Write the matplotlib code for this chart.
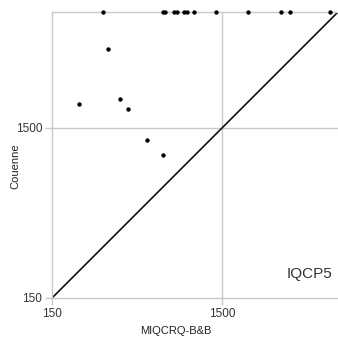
import matplotlib
matplotlib.use("Agg")
import matplotlib.pyplot as plt
from matplotlib.ticker import FixedLocator, FixedFormatter, NullLocator

plt.rcParams['font.family'] = ['Liberation Sans', 'DejaVu Sans']

# data (seconds); timeouts capped at 7200
miqcrq_timeout = [298, 676, 694, 781, 810, 897, 934, 1023, 1377, 2124, 3305, 3747, 6437]
couenne_timeout = [7200] * len(miqcrq_timeout)
miqcrq_solved = [321, 216, 376, 421, 542, 670]
couenne_solved = [4347, 2058, 2220, 1924, 1270, 1037]
tick_values = [150, 1500]
tick_labels = ["150", "1500"]
lo, hi = 150, 7200

fig = plt.figure(figsize=(3.38, 3.38), dpi=100)
ax = fig.add_axes([52/338, 40/338, 286.3/338, 286.3/338])
ax.set_xscale('log')
ax.set_yscale('log')
ax.set_xlim(lo, hi)
ax.set_ylim(lo, hi)

gc = '#c8c8c8'
for v in tick_values[1:]:
    ax.axvline(v, color=gc, lw=1, zorder=1)
    ax.axhline(v, color=gc, lw=1, zorder=1)

ax.plot([lo, hi], [lo, hi], color='#111111', lw=1.2, zorder=2)
ax.scatter(miqcrq_timeout + miqcrq_solved, couenne_timeout + couenne_solved,
           s=10, color='black', zorder=3, clip_on=False, linewidths=0)

for ax_ in (ax.xaxis, ax.yaxis):
    ax_.set_major_locator(FixedLocator(tick_values))
    ax_.set_major_formatter(FixedFormatter(tick_labels))
    ax_.set_minor_locator(NullLocator())

ax.tick_params(length=5, width=1, color=gc, labelsize=8.5, labelcolor='#333333', pad=2)
for s in ['left', 'bottom', 'top']:
    ax.spines[s].set_color(gc)
    ax.spines[s].set_linewidth(1)
ax.spines['right'].set_visible(False)

ax.set_xlabel('MIQCRQ-B&B', fontsize=8, color='#222222')
ax.set_ylabel('Couenne', fontsize=8, color='#222222')
ax.xaxis.set_label_coords(0.433, -0.098)
ax.yaxis.set_label_coords(-0.112, 0.461)
ax.text(0.98, 0.085, 'IQCP5', transform=ax.transAxes, ha='right', va='center',
        fontsize=11, color='#333333')

fig.savefig('out.png', dpi=100)
